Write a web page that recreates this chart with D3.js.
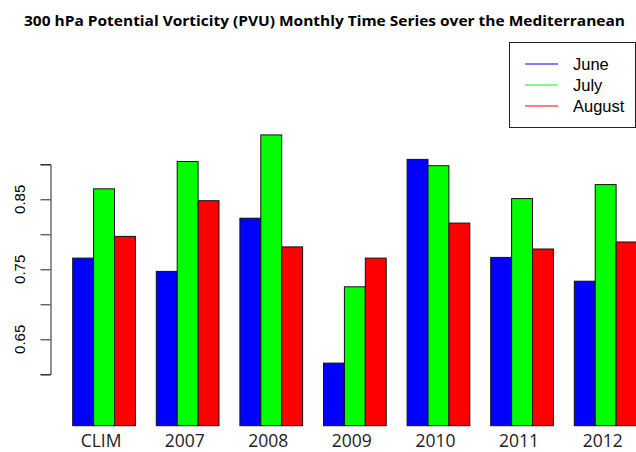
<!DOCTYPE html>
<html>
<head>
<meta charset="utf-8">
<script src="https://cdn.jsdelivr.net/npm/d3@7"></script>
<style>
  body { margin: 0; background: #fff; }
  svg { display: block; }
  .title { font-family: "Open Sans", sans-serif; font-weight: bold; font-size: 14.5px; }
  .cat { font-family: "Open Sans", sans-serif; font-size: 17.5px; fill: #222; }
  .tick-label { font-family: "Liberation Sans", Arial, sans-serif; font-size: 15px; }
  .legend text { font-family: "Liberation Sans", Arial, sans-serif; font-size: 16.5px; }
</style>
</head>
<body>
<div id="chart"></div>
<script>
// data
const categories = ['CLIM', '2007', '2008', '2009', '2010', '2011', '2012'];
const months = ['June', 'July', 'August'];
const colors = ['#0000ff', '#00ff00', '#ff0000'];
const june   = [0.766, 0.747, 0.823, 0.616, 0.907, 0.767, 0.733];
const july   = [0.865, 0.904, 0.942, 0.725, 0.898, 0.851, 0.871];
const august = [0.797, 0.848, 0.782, 0.766, 0.816, 0.779, 0.789];
const yTicks = [0.60, 0.65, 0.70, 0.75, 0.80, 0.85, 0.90];
const yLabels = [0.65, 0.75, 0.85];

const series = [june, july, august];
const width = 636, height = 452;
const plotBottom = 425.7;

const svg = d3.select('#chart').append('svg')
  .attr('width', width)
  .attr('height', height);

// scales (R barplot style: 3 bars + 1 space per group)
const y = d3.scaleLinear().domain([0.60, 0.90]).range([374.3, 164.3]);
const x = d3.scaleLinear().domain([1, 2]).range([72.7, 93.6]);

svg.append('text')
  .attr('class', 'title')
  .attr('x', 324.5)
  .attr('y', 26)
  .attr('text-anchor', 'middle')
  .attr('textLength', 601)
  .attr('lengthAdjust', 'spacingAndGlyphs')
  .text('300 hPa Potential Vorticity (PVU) Monthly Time Series over the Mediterranean');

// bars
categories.forEach((c, i) => {
  series.forEach((s, j) => {
    const u = 1 + i * 4 + j;
    svg.append('rect')
      .attr('x', x(u))
      .attr('y', y(s[i]))
      .attr('width', x(u + 1) - x(u))
      .attr('height', plotBottom - y(s[i]))
      .attr('fill', colors[j])
      .attr('stroke', '#111')
      .attr('stroke-width', 1);
  });
  svg.append('text')
    .attr('class', 'cat')
    .attr('x', x(1 + i * 4 + 1.5) - 3)
    .attr('y', 447)
    .attr('text-anchor', 'middle')
    .text(c);
});

// y axis
const axis = svg.append('g').attr('transform', 'translate(50.5,0)');
axis.call(d3.axisLeft(y).tickValues(yTicks).tickSize(10).tickFormat(''));
axis.select('.domain').attr('stroke', '#222');
axis.selectAll('.tick line').attr('stroke', '#222');
yLabels.forEach(v => {
  svg.append('text')
    .attr('class', 'tick-label')
    .attr('transform', `translate(25,${y(v)}) rotate(-90)`)
    .attr('text-anchor', 'middle')
    .text(d3.format('.2f')(v));
});

// legend
const lg = svg.append('g').attr('class', 'legend');
lg.append('rect')
  .attr('x', 509.5).attr('y', 42.5)
  .attr('width', 126).attr('height', 85)
  .attr('fill', '#fff').attr('stroke', '#222');
months.forEach((m, j) => {
  const ly = 64 + j * 21;
  lg.append('line')
    .attr('x1', 525).attr('x2', 558)
    .attr('y1', ly).attr('y2', ly)
    .attr('stroke', colors[j]).attr('stroke-width', 1);
  lg.append('text')
    .attr('x', 573).attr('y', ly + 6)
    .text(m);
});
</script>
</body>
</html>
